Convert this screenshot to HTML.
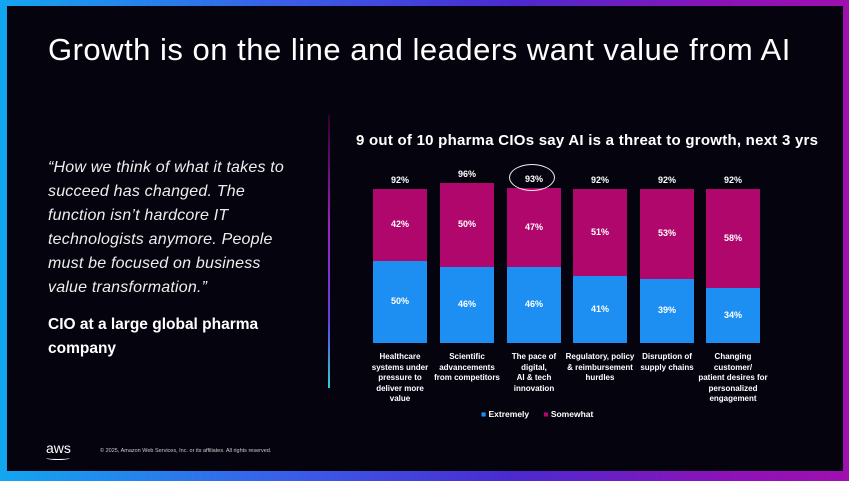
<!DOCTYPE html>
<html><head><style>
*{margin:0;padding:0}
body{width:849px;height:481px;overflow:hidden;background:linear-gradient(90deg,#12a6f0 0%,#3b5be8 35%,#4a2bd0 60%,#8b12b8 85%,#a00fb0 100%);position:relative;font-family:"Liberation Sans",sans-serif;color:#fff}
#in{position:absolute;left:7px;top:6px;width:836px;height:465px;background:#05040e}
.t{position:absolute;left:48px;top:32px;font-size:31px;letter-spacing:0.5px;white-space:nowrap}
.q{position:absolute;left:48px;top:156px;font-size:16px;font-style:italic;line-height:24px;color:#eee;letter-spacing:0.2px}
.c{position:absolute;left:48px;top:313px;font-size:15.5px;font-weight:bold;line-height:24px}
.vl{position:absolute;left:328px;top:115px;width:2px;height:273px;background:linear-gradient(#300030,#a020c0 40%,#6040e0 75%,#30d0d0)}
.ct{position:absolute;left:356px;top:132px;font-size:15px;letter-spacing:0.25px;font-weight:bold;white-space:nowrap}
.bar{position:absolute;width:54px}
.s{background:#b0076c}.e{background:#1d8ff2}
.l{position:absolute;font-size:9px;font-weight:bold;text-align:center;width:80px}
.x{position:absolute;font-size:8px;font-weight:bold;text-align:center;width:90px;line-height:10.5px;top:352px}
</style></head><body><div id="in"></div>
<div class="t">Growth is on the line and leaders want value from AI</div>
<div class="q">“How we think of what it takes to<br>succeed has changed. The<br>function isn’t hardcore IT<br>technologists anymore. People<br>must be focused on business<br>value transformation.”</div>
<div class="c">CIO at a large global pharma<br>company</div>
<div class="vl"></div>
<div class="ct">9 out of 10 pharma CIOs say AI is a threat to growth, next 3 yrs</div>
<div id="ch"></div>
<div style="position:absolute;left:509px;top:164px;width:44px;height:25px;border:1.5px solid #eee;border-radius:50%"></div>
<div style="position:absolute;left:481px;top:409px;font-size:8.5px;font-weight:bold"><span style="color:#1d8ff2">■</span> Extremely &nbsp;&nbsp;&nbsp;&nbsp; <span style="color:#b0076c">■</span> Somewhat</div>
<div style="position:absolute;left:46px;top:440px;font-size:14px">aws</div>
<div style="position:absolute;left:46px;top:456px;width:24px;height:3px;border-bottom:1.5px solid #fff;border-radius:0 0 50% 50%"></div>
<div style="position:absolute;left:100px;top:448px;font-size:5.5px;color:#ccc">© 2025, Amazon Web Services, Inc. or its affiliates. All rights reserved.</div>
<script>
var d=[[373,189,261,"92%","42%","50%","Healthcare<br>systems under<br>pressure to<br>deliver more<br>value"],
[440,183,267,"96%","50%","46%","Scientific<br>advancements<br>from competitors"],
[507,188,267,"93%","47%","46%","The pace of<br>digital,<br>AI &amp; tech<br>innovation"],
[573,189,276,"92%","51%","41%","Regulatory, policy<br>&amp; reimbursement<br>hurdles"],
[640,189,279,"92%","53%","39%","Disruption of<br>supply chains"],
[706,189,288,"92%","58%","34%","Changing<br>customer/<br>patient desires for<br>personalized<br>engagement"]];
var h="";d.forEach(function(b){var x=b[0],c=x+27;
h+='<div class="bar s" style="left:'+x+'px;top:'+b[1]+'px;height:'+(b[2]-b[1])+'px"></div>';
h+='<div class="bar e" style="left:'+x+'px;top:'+b[2]+'px;height:'+(343-b[2])+'px"></div>';
h+='<div class="l" style="left:'+(c-40)+'px;top:'+(b[1]-14)+'px">'+b[3]+'</div>';
h+='<div class="l" style="left:'+(c-40)+'px;top:'+((b[1]+b[2])/2-6)+'px">'+b[4]+'</div>';
h+='<div class="l" style="left:'+(c-40)+'px;top:'+((b[2]+343)/2-6)+'px">'+b[5]+'</div>';
h+='<div class="x" style="left:'+(c-45)+'px">'+b[6]+'</div>';});
document.getElementById("ch").innerHTML=h;
</script>
</body></html>
